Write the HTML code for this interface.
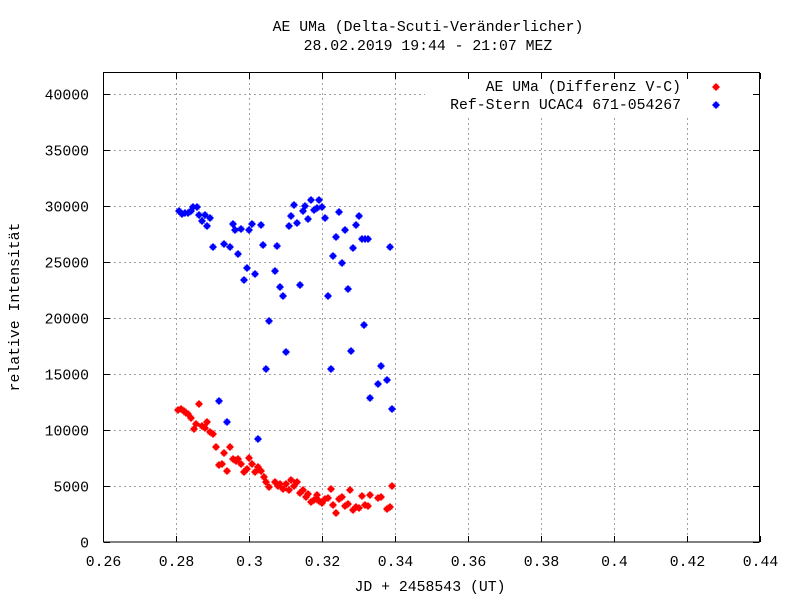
<!DOCTYPE html>
<html><head><meta charset="utf-8"><style>
body{margin:0;background:#fff}
svg text{font-family:"Liberation Mono","DejaVu Sans Mono",monospace;font-size:14.8px;fill:#000}
</style></head><body>
<svg id="s" width="800" height="600" xmlns="http://www.w3.org/2000/svg">
<rect width="800" height="600" fill="#fff"/>
<g id="grid" stroke="#a0a0a0" stroke-dasharray="2,3" stroke-width="1"></g>
<rect x="425" y="73" width="334" height="43" fill="#fff"/>
<rect x="103.5" y="72.5" width="656" height="469.5" fill="none" stroke="#000"/>
<g id="ticks" stroke="#000"></g>
<g id="lab"></g>
<text x="428" y="31" text-anchor="middle">AE UMa (Delta-Scuti-Veränderlicher)</text>
<text x="428" y="50" text-anchor="middle">28.02.2019 19:44 - 21:07 MEZ</text>
<text x="430" y="591" text-anchor="middle">JD + 2458543 (UT)</text>
<text transform="translate(19,307) rotate(-90)" text-anchor="middle">relative Intensität</text>
<text x="681" y="91" text-anchor="end">AE UMa (Differenz V-C)</text>
<text x="681" y="109" text-anchor="end">Ref-Stern UCAC4 671-054267</text>
<g id="pts"></g>
</svg>
<script>
var ns="http://www.w3.org/2000/svg";
function el(p,t,a,tx){var e=document.createElementNS(ns,t);for(var k in a)e.setAttribute(k,a[k]);if(tx)e.textContent=tx;document.getElementById(p).appendChild(e);}
var xs=["0.26","0.28","0.3","0.32","0.34","0.36","0.38","0.4","0.42","0.44"];
for(var i=0;i<10;i++){var x=103.5+i*73;
 if(i>0&&i<9)el("grid","line",{x1:x,y1:73,x2:x,y2:541});
 el("ticks","line",{x1:x,y1:542,x2:x,y2:536});el("ticks","line",{x1:x,y1:73,x2:x,y2:79});
 el("lab","text",{x:x,y:566,"text-anchor":"middle"},xs[i]);}
for(var j=0;j<=8;j++){var y=542-j*56+0.5;
 if(j>0)el("grid","line",{x1:104,y1:y,x2:j==8?425:759,y2:y});
 el("ticks","line",{x1:104,y1:y,x2:110,y2:y});el("ticks","line",{x1:753,y1:y,x2:759,y2:y});
 el("lab","text",{x:89,y:y+5,"text-anchor":"end"},String(j*5000));}
function mk(x,y,c){el("pts","rect",{x:x-2.5,y:y-2.5,width:5,height:5,fill:c});
 el("pts","rect",{x:x-3.5,y:y-1,width:7,height:2,fill:c});el("pts","rect",{x:x-1,y:y-3.5,width:2,height:7,fill:c});}
var B=[[179,211],[182,214],[185,213],[188,213],[191,211],[193,207],[197,207],[199,215],[202,221],[205,215],[207,226],[210,218],[213,247],[224,244],[230,247],[233,224],[235,230],[238,254],[241,229],[244,280],[247,268],[249,230],[252,224],[255,274],[261,225],[263,245],[266,369],[269,321],[275,271],[277,246],[280,287],[283,296],[286,352],[289,226],[291,216],[294,205],[297,223],[300,285],[303,211],[305,206],[308,219],[311,200],[314,210],[317,208],[319,200],[322,207],[325,218],[328,296],[331,369],[333,256],[336,237],[339,212],[342,263],[345,230],[348,289],[351,351],[353,248],[356,225],[359,216],[362,239],[365,239],[368,239],[370,398],[378,384],[381,366],[387,380],[390,247],[392,409],[364,325],[219,401],[227,422],[258,439]];
var R=[[178,410],[181,409],[184,411],[186,413],[188,414],[191,418],[194,429],[196,424],[199,404],[202,426],[205,428],[207,422],[210,432],[213,434],[216,447],[219,465],[222,464],[224,453],[227,471],[230,447],[233,459],[236,461],[238,459],[241,464],[244,472],[247,469],[249,458],[252,464],[255,472],[258,467],[261,471],[264,477],[266,482],[269,487],[275,482],[278,486],[280,484],[283,489],[286,484],[289,490],[291,480],[294,486],[297,482],[300,493],[303,490],[306,497],[308,494],[311,502],[314,500],[317,495],[319,501],[322,503],[325,499],[328,498],[331,489],[333,505],[336,513],[339,499],[342,497],[345,506],[348,504],[350,490],[353,510],[356,507],[359,508],[362,496],[365,505],[368,506],[370,495],[378,498],[381,497],[387,509],[390,507],[392,486]];
R.forEach(function(p){mk(p[0],p[1],"#f00")});
B.forEach(function(p){mk(p[0],p[1],"#00f")});
mk(716,87,"#f00");mk(716,105,"#00f");
</script>
</body></html>
